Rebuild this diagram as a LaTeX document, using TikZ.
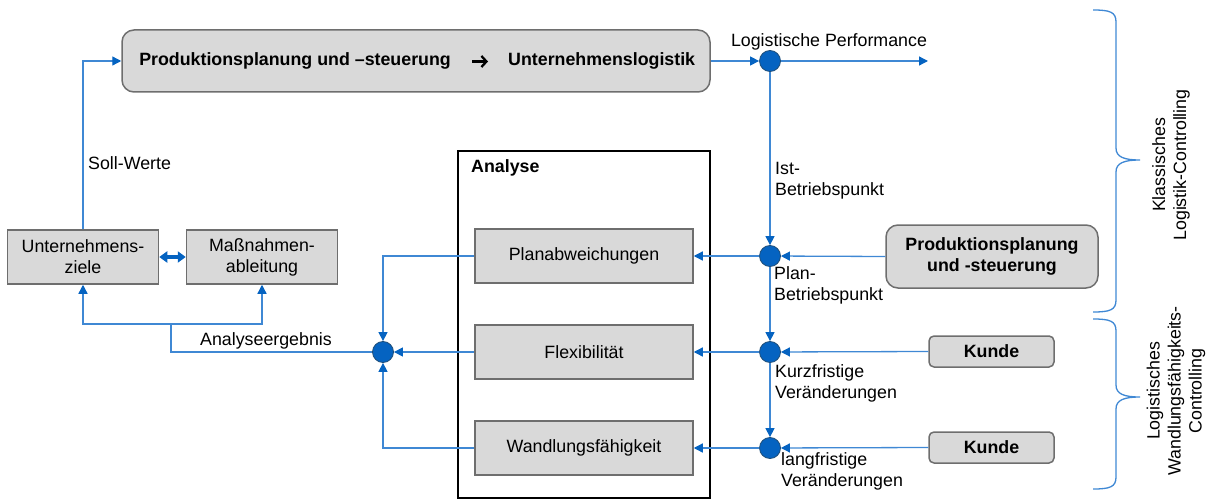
\documentclass[tikz,border=0pt]{standalone}
\usepackage{fontspec}
\setmainfont{Liberation Sans}
\usetikzlibrary{arrows.meta}
\definecolor{boxfill}{HTML}{D9D9D9}
\definecolor{boxline}{HTML}{6E6E6E}
\definecolor{flowblue}{HTML}{3F88D4}
\definecolor{tipblue}{HTML}{0563C1}
\definecolor{dotblue}{HTML}{0563C1}
\definecolor{dotrim}{HTML}{1F4E79}
\begin{document}
\begin{tikzpicture}[x=1pt,y=-1pt,
  font=\fontsize{17.8}{21}\selectfont,
  graybox/.style={draw=boxline, fill=boxfill, line width=1.5pt, align=center, inner sep=0pt},
  roundbox/.style={graybox, rounded corners=12pt, font=\fontsize{17.8}{21}\selectfont\bfseries},
  junction/.style={circle, fill=dotblue, draw=dotrim, line width=0.8pt, minimum size=21pt, inner sep=0pt},
  link/.style={draw=flowblue, line width=1.3pt},
  flow/.style={link, -{Triangle[length=9pt,width=9pt,color=tipblue]}},
  txt/.style={inner sep=0pt, align=left},
  boldtxt/.style={txt, font=\fontsize{17.8}{21}\selectfont\bfseries},
  bracecurve/.style={draw=flowblue, line width=1.3pt}]
\useasboundingbox (0,0) rectangle (1211,500);

% main process chain
\node[roundbox, minimum width=588pt, minimum height=62pt] (chain) at (416,61) {};
\node[boldtxt, anchor=east] (chainfrom) at (451,61) {Produktionsplanung und –steuerung};
\node[boldtxt, anchor=west] (chainto) at (508,61) {Unternehmenslogistik};
\coordinate (chainarrA) at (472,61.5);
\coordinate (chainarrB) at (488,61.5);
\draw[black, line width=2.3pt, -{Straight Barb[length=5pt,width=11pt,line width=2.3pt]}]
  (chainarrA) -- (chainarrB);

% junctions
\node[junction] (d1) at (770,61) {};
\node[junction] (d2) at (770,256) {};
\node[junction] (d3) at (770,352) {};
\node[junction] (d4) at (770,448) {};
\node[junction] (d5) at (383,352) {};
\coordinate (perf) at (928,61);

% analysis frame and its boxes
\node[draw=black, line width=2pt, minimum width=252pt, minimum height=347pt, inner sep=0pt] (analyse) at (584,324.5) {};
\node[boldtxt, anchor=west] (analysetitle) at (471,168) {Analyse};
\node[graybox, minimum width=218pt, minimum height=54pt] (plan) at (584,256) {Planabweichungen};
\node[graybox, minimum width=218pt, minimum height=54pt] (flex) at (584,352) {Flexibilität};
\node[graybox, minimum width=218pt, minimum height=54pt] (wand) at (584,448) {Wandlungsfähigkeit};

% left side boxes
\node[graybox, minimum width=151pt, minimum height=54pt] (ziele) at (83,257) {Unternehmens-\\ziele};
\node[graybox, minimum width=151pt, minimum height=54pt] (mass) at (262,257) {Maßnahmen-\\ableitung};

% right side sources
\node[roundbox, minimum width=212pt, minimum height=63pt] (pps) at (992,256.5) {Produktionsplanung\\und -steuerung};
\node[roundbox, rounded corners=5pt, minimum width=125pt, minimum height=31pt] (kunde1) at (991.5,351.5) {Kunde};
\node[roundbox, rounded corners=5pt, minimum width=125pt, minimum height=31pt] (kunde2) at (991.5,447.5) {Kunde};

% connectors along the top
\draw[flow] (chain.east) -- (d1);
\draw[flow] (d1) -- (perf);
\draw[flow] (ziele.north) |- (chain.west);
\draw[flow] (d1) -- (d2);
\draw[flow] (d2) -- (d3);
\draw[flow] (d3) -- (d4);

% inputs from the right
\draw[flow] (pps.west) -- (d2);
\draw[flow] (kunde1.west) -- (d3);
\draw[flow] (kunde2.west) -- (d4);

% into the analysis boxes
\draw[flow] (d2) -- (plan.east);
\draw[flow] (d3) -- (flex.east);
\draw[flow] (d4) -- (wand.east);

% out of the analysis boxes
\draw[flow] (plan.west) -| (d5);
\draw[flow] (flex.west) -- (d5);
\draw[flow] (wand.west) -| (d5);

% result feedback
\coordinate (ergA) at (171,352);
\coordinate (ergB) at (171,324);
\draw[link] (d5.west) -- (ergA) -- (ergB);
\draw[flow] (ergB) -| (ziele.south);
\draw[flow] (ergB) -| (mass.south);

% mutual link between the two left boxes
\draw[draw=tipblue, line width=3.5pt,
  {Triangle[length=8pt,width=11pt]}-{Triangle[length=8pt,width=11pt]}]
  (ziele.east) -- (mass.west);

% labels
\node[txt, anchor=center] (lperf) at (829,42) {Logistische Performance};
\node[txt, anchor=west] (list) at (775,181) {Ist-\\Betriebspunkt};
\node[txt, anchor=west] (lplan) at (774,285) {Plan-\\Betriebspunkt};
\node[txt, anchor=west] (lkurz) at (775,383.5) {Kurzfristige\\Veränderungen};
\node[txt, anchor=west] (llang) at (781,471) {langfristige\\Veränderungen};
\node[txt, anchor=west] (lsoll) at (88,163) {Soll-Werte};
\node[txt, anchor=center] (lerg) at (266,341) {Analyseergebnis};

% braces on the right
\draw[bracecurve] (1093,10) .. controls (1110,10) and (1116,12) .. (1116,22)
  -- (1116,148) .. controls (1116,157) and (1124,160) .. (1140,160)
  .. controls (1124,160) and (1116,163) .. (1116,172)
  -- (1116,300) .. controls (1116,310) and (1110,312) .. (1093,312);
\draw[bracecurve] (1093,319) .. controls (1110,319) and (1116,321) .. (1116,331)
  -- (1116,385) .. controls (1116,394) and (1124,397) .. (1140,397)
  .. controls (1124,397) and (1116,400) .. (1116,409)
  -- (1116,477) .. controls (1116,487) and (1110,489) .. (1093,489);
\node[txt, align=center, rotate=90] (lklass) at (1171,165) {Klassisches\\Logistik-Controlling};
\node[txt, align=center, rotate=90] (lwandl) at (1176,391) {Logistisches\\Wandlungsfähigkeits-\\Controlling};
\end{tikzpicture}
\end{document}
